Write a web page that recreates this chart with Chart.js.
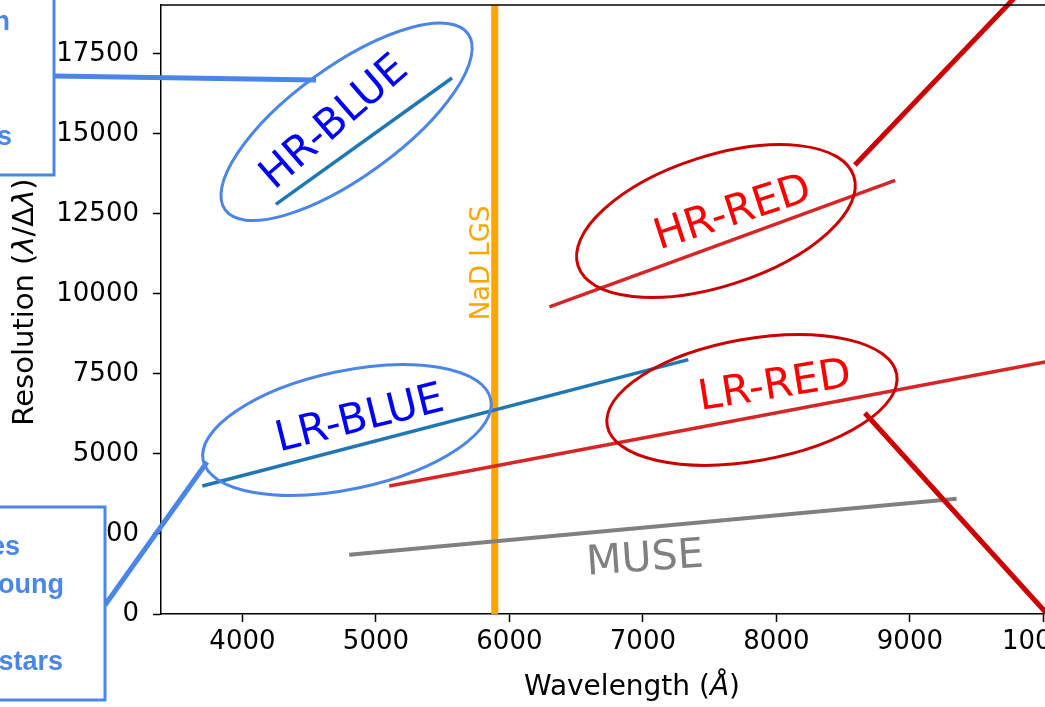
<!DOCTYPE html>
<html>
<head>
<meta charset="utf-8">
<script src="https://cdn.jsdelivr.net/npm/chart.js@4.4.0/dist/chart.umd.min.js"></script>
<style>
html, body { margin: 0; padding: 0; background: #fff; overflow: hidden; }
canvas { display: block; }
</style>
</head>
<body>
<canvas id="c" width="1090" height="707"></canvas>
<script>
Chart.defaults.font.family = 'DejaVu Sans';
Chart.defaults.color = '#000000';

// end points of each mode: wavelength (Angstrom) and resolving power
const hrBlueWave = [4250, 5570];
const hrBlueRes = [12800, 16750];
const lrBlueWave = [3700, 7340];
const lrBlueRes = [4000, 7950];
const hrRedWave = [6300, 8890];
const hrRedRes = [9600, 13550];
const lrRedWave = [5100, 10300];
const lrRedRes = [4000, 8100];
const museWave = [4800, 9350];
const museRes = [1850, 3600];
const nadWave = [5890, 5890];
const nadRes = [0, 19030];

const xTicks = [4000, 5000, 6000, 7000, 8000, 9000, 10000];
const yTicks = [0, 2500, 5000, 7500, 10000, 12500, 15000, 17500];

function pts(w, r) {
    return w.map((v, i) => ({ x: v, y: r[i] }));
}

function lineSet(w, r, color, width, order) {
    return {
        data: pts(w, r),
        borderColor: color,
        borderWidth: width,
        showLine: true,
        pointRadius: 0,
        order: order
    };
}

// ellipses and labels are anchored in data units
const rings = [
    { x: 4780, y: 15380, a: 150, b: 55, angle: 36, color: '#4a86e8' },
    { x: 4783, y: 5750, a: 147, b: 59, angle: 12, color: '#4a86e8' },
    { x: 7547, y: 12280, a: 145, b: 65, angle: 18, color: '#cc0000' },
    { x: 7817, y: 6690, a: 147, b: 61, angle: 10, color: '#cc0000' }
];

const labels = [
    { text: 'HR-BLUE', x: 4693, y: 15340, angle: 41, size: 42, color: '#0000ff' },
    { text: 'LR-BLUE', x: 4881, y: 6060, angle: 14, size: 42, color: '#0000ff' },
    { text: 'HR-RED', x: 7675, y: 12500, angle: 18, size: 42, color: '#ff0000' },
    { text: 'LR-RED', x: 7989, y: 7090, angle: 9, size: 42, color: '#ff0000' },
    { text: 'MUSE', x: 7016, y: 1690, angle: 4, size: 41, color: '#808080' },
    { text: 'NaD LGS', x: 5794, y: 10970, angle: 90, size: 26, color: '#ffa500' }
];

const links = [
    { x0: 2589, y0: 16810, x1: 4551, y1: 16690, color: '#4a86e8' },
    { x0: 2971, y0: 281, x1: 3735, y1: 4750, color: '#4a86e8' },
    { x0: 8588, y0: 14030, x1: 9840, y1: 19500, color: '#cc0000' },
    { x0: 8663, y0: 6280, x1: 10049, y1: -94, color: '#cc0000' }
];

const notes = {
    id: 'notes',
    afterDatasetsDraw(chart) {
        const { ctx, scales: { x, y } } = chart;
        ctx.save();

        rings.forEach(r => {
            ctx.beginPath();
            ctx.ellipse(x.getPixelForValue(r.x), y.getPixelForValue(r.y), r.a, r.b,
                -r.angle * Math.PI / 180, 0, Math.PI * 2);
            ctx.lineWidth = 3;
            ctx.strokeStyle = r.color;
            ctx.stroke();
        });

        links.forEach(l => {
            ctx.beginPath();
            ctx.moveTo(x.getPixelForValue(l.x0), y.getPixelForValue(l.y0));
            ctx.lineTo(x.getPixelForValue(l.x1), y.getPixelForValue(l.y1));
            ctx.lineWidth = 5;
            ctx.strokeStyle = l.color;
            ctx.stroke();
        });

        labels.forEach(t => {
            ctx.save();
            ctx.translate(x.getPixelForValue(t.x), y.getPixelForValue(t.y));
            ctx.rotate(-t.angle * Math.PI / 180);
            ctx.font = t.size + 'px "DejaVu Sans"';
            ctx.fillStyle = t.color;
            ctx.textAlign = 'center';
            ctx.textBaseline = 'middle';
            ctx.fillText(t.text, 0, 0);
            ctx.restore();
        });

        ctx.restore();
    },
    afterDraw(chart) {
        const { ctx, chartArea } = chart;
        ctx.save();

        // top spine
        ctx.beginPath();
        ctx.moveTo(chartArea.left, chartArea.top);
        ctx.lineTo(chartArea.right, chartArea.top);
        ctx.lineWidth = 1.5;
        ctx.strokeStyle = '#000';
        ctx.stroke();

        // axis titles, with italic symbols
        ctx.fillStyle = '#000';
        ctx.textBaseline = 'middle';
        function mixed(parts, cx, cy, rot, size) {
            const normal = size + 'px "DejaVu Sans"';
            const italic = 'italic ' + size + 'px "DejaVu Sans"';
            ctx.save();
            ctx.translate(cx, cy);
            ctx.rotate(rot);
            let total = 0;
            parts.forEach(p => { ctx.font = p[1] ? italic : normal; total += ctx.measureText(p[0]).width; });
            let pos = -total / 2;
            ctx.textAlign = 'left';
            parts.forEach(p => {
                ctx.font = p[1] ? italic : normal;
                ctx.fillText(p[0], pos, 0);
                pos += ctx.measureText(p[0]).width;
            });
            ctx.restore();
        }
        mixed([['Wavelength (', false], ['Å', true], [')', false]], 632, 688, 0, 28);
        mixed([['Resolution (', false], ['λ', true], ['/Δ', false], ['λ', true], [')', false]], 25, 302, -Math.PI / 2, 29);

        // call-out boxes cut by the left edge
        ctx.lineWidth = 3;
        ctx.strokeStyle = '#4a86e8';
        ctx.fillStyle = '#ffffff';
        ctx.fillRect(-10, -10, 64, 185);
        ctx.strokeRect(-10, -10, 64, 185);
        ctx.fillRect(-10, 507, 115, 193);
        ctx.strokeRect(-10, 507, 115, 193);

        ctx.fillStyle = '#4a86e8';
        ctx.font = 'bold 27px "Liberation Sans"';
        ctx.textAlign = 'right';
        ctx.textBaseline = 'alphabetic';
        ctx.fillText('n', 10, 30);
        ctx.fillText('s', 12, 145);
        ctx.fillText('es', 20, 555);
        ctx.fillText('young', 64, 593);
        ctx.fillText('stars', 63, 670);

        ctx.restore();
    }
};

const axisLook = {
    grid: { drawOnChartArea: false, tickLength: 8, tickWidth: 1.5, tickColor: '#000' },
    border: { color: '#000', width: 1.5 }
};

new Chart(document.getElementById('c'), {
    type: 'scatter',
    data: {
        datasets: [
            lineSet(nadWave, nadRes, '#ffa500', 7, 5),
            lineSet(hrBlueWave, hrBlueRes, '#1f77b4', 3.5, 1),
            lineSet(lrBlueWave, lrBlueRes, '#1f77b4', 3.5, 1),
            lineSet(hrRedWave, hrRedRes, '#d62728', 3.5, 1),
            lineSet(lrRedWave, lrRedRes, '#d62728', 3.5, 1),
            lineSet(museWave, museRes, '#808080', 4, 1)
        ]
    },
    options: {
        responsive: false,
        animation: false,
        events: [],
        layout: { padding: { top: 5, right: 6, left: 0, bottom: 0 } },
        plugins: { legend: { display: false }, tooltip: { enabled: false } },
        scales: {
            x: {
                type: 'linear',
                min: 3390,
                max: 10300,
                ...axisLook,
                afterBuildTicks: s => { s.ticks = xTicks.map(v => ({ value: v })); },
                afterFit: s => { s.height = 93; },
                ticks: { font: { size: 26 }, color: '#000', padding: 5, maxRotation: 0, callback: v => String(v) }
            },
            y: {
                type: 'linear',
                min: 0,
                max: 19030,
                ...axisLook,
                afterBuildTicks: s => { s.ticks = yTicks.map(v => ({ value: v })); },
                afterFit: s => { s.width = 161; s.paddingTop = 0; s.paddingBottom = 0; },
                ticks: { font: { size: 26 }, color: '#000', padding: 14, callback: v => String(v) }
            }
        }
    },
    plugins: [notes]
});
</script>
</body>
</html>
